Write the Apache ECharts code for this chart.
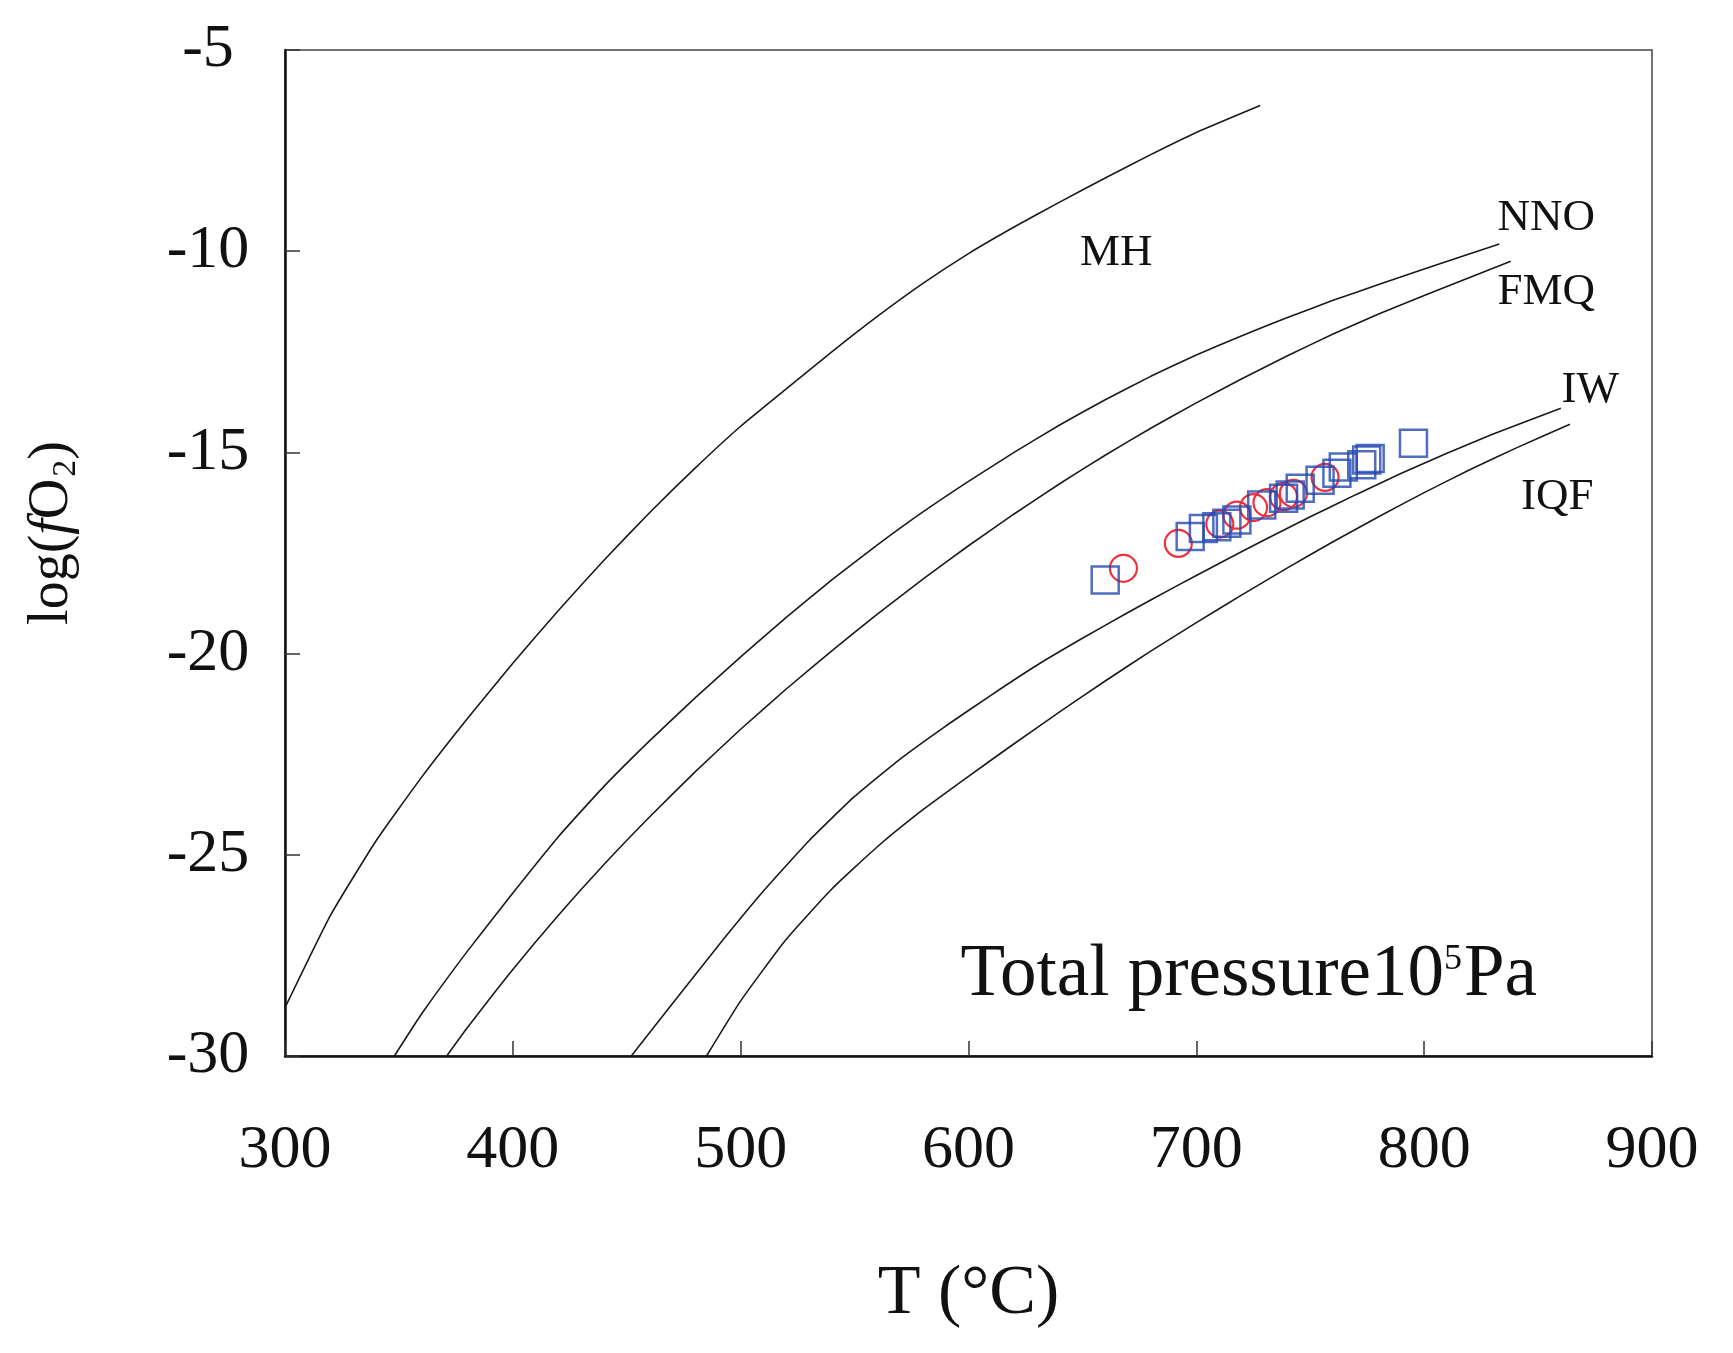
<!DOCTYPE html>
<html>
<head>
<meta charset="utf-8">
<title>log(fO2) vs T</title>
<script src="https://cdn.jsdelivr.net/npm/echarts@6/dist/echarts.min.js"></script>
<style>
  html, body { margin: 0; padding: 0; background: #fff; }
  #main { width: 1733px; height: 1353px; }
</style>
</head>
<body>
<div id="main"></div>
<script>
// buffer curves: [T (°C), log fO2]
const mhCurve = [
  [300, -28.8], [320, -26.5], [340, -24.65], [360, -23.07], [380, -21.62],
  [400, -20.24], [420, -18.93], [440, -17.68], [460, -16.5], [480, -15.39],
  [500, -14.35], [520, -13.42], [540, -12.5], [560, -11.62], [580, -10.8],
  [600, -10.06], [620, -9.4], [640, -8.78], [660, -8.18], [680, -7.6],
  [700, -7.05], [728, -6.38]
];
const nnoCurve = [
  [348, -30], [360, -28.95], [380, -27.4], [400, -25.95], [420, -24.55],
  [440, -23.3], [460, -22.17], [480, -21.1], [500, -20.08], [520, -19.1],
  [540, -18.17], [560, -17.3], [580, -16.48], [600, -15.72], [620, -15.0],
  [640, -14.32], [660, -13.69], [680, -13.11], [700, -12.58], [720, -12.1],
  [740, -11.65], [760, -11.22], [780, -10.83], [800, -10.44], [833, -9.82]
];
const fmqCurve = [
  [371, -30], [380, -29.3], [400, -27.85], [420, -26.5], [440, -25.24],
  [460, -24.06], [480, -22.94], [500, -21.88], [520, -20.88], [540, -19.93],
  [560, -19.02], [580, -18.15], [600, -17.32], [620, -16.53], [640, -15.78],
  [660, -15.07], [680, -14.4], [700, -13.77], [720, -13.17], [740, -12.6],
  [760, -12.06], [780, -11.56], [800, -11.1], [838, -10.25]
];
const iwCurve = [
  [452, -30], [470, -28.7], [490, -27.27], [510, -25.9], [530, -24.65],
  [550, -23.55], [570, -22.62], [590, -21.8], [610, -21.03], [630, -20.29],
  [650, -19.62], [670, -18.98], [690, -18.36], [710, -17.76], [730, -17.17],
  [750, -16.6], [770, -16.05], [790, -15.52], [810, -15.02], [830, -14.55],
  [860, -13.9]
];
const iqfCurve = [
  [485, -30], [500, -28.63], [520, -27.1], [540, -25.85], [560, -24.8],
  [580, -23.88], [600, -23.05], [620, -22.24], [640, -21.45], [660, -20.68],
  [680, -19.94], [700, -19.23], [720, -18.54], [740, -17.87], [760, -17.22],
  [780, -16.6], [800, -16.0], [820, -15.43], [840, -14.9], [864, -14.3]
];

// samples
const squareT = [660, 697.3, 703.1, 709, 713.4, 717.8, 728.7, 738.3, 741.2, 745.6, 754.3, 761.7, 764.5, 772.6, 774.8, 776.3, 795.3];
const squareL = [-18.17, -17.09, -16.89, -16.85, -16.76, -16.68, -16.31, -16.14, -16.06, -15.89, -15.69, -15.52, -15.36, -15.31, -15.19, -15.15, -14.77];
const circleT = [668, 692.1, 710.3, 717.8, 725.1, 731, 738.3, 742.6, 756.5];
const circleL = [-17.88, -17.26, -16.78, -16.56, -16.37, -16.25, -16.1, -16.02, -15.62];

// curve names and their anchor points
const curveNames = ['MH', 'NNO', 'FMQ', 'IW', 'IQF'];
const nameT = [664.8, 853.6, 853.6, 872.9, 858.4];
const nameL = [-10.04, -9.17, -11.01, -13.45, -16.11];

const xTicks = [300, 900, 100];
const yTicks = [-30, -5, 5];

const serif = '"Liberation Serif", "Times New Roman", serif';

const myChart = echarts.init(document.getElementById('main'));

function curveSeries(name, data) {
  return {
    name: name,
    type: 'line',
    data: data,
    symbol: 'none',
    smooth: 0.15,
    silent: true,
    lineStyle: { color: '#1a1a1a', width: 1.6 },
    z: 2
  };
}

const option = {
  backgroundColor: '#fff',
  animation: false,
  grid: {
    left: 285,
    top: 50,
    right: 81,
    bottom: 297,
    show: true,
    borderColor: '#444',
    borderWidth: 1.5
  },
  xAxis: {
    type: 'value',
    min: xTicks[0],
    max: xTicks[1],
    interval: xTicks[2],
    name: 'T (°C)',
    nameLocation: 'middle',
    nameGap: 204,
    nameTextStyle: { fontFamily: serif, fontSize: 70, color: '#111' },
    axisLine: { show: true, lineStyle: { color: '#111', width: 2.5 } },
    axisTick: { show: true, inside: true, length: 15, lineStyle: { color: '#333', width: 1.5 } },
    axisLabel: { fontFamily: serif, fontSize: 62, color: '#111', margin: 64 },
    splitLine: { show: false }
  },
  yAxis: {
    type: 'value',
    min: yTicks[0],
    max: yTicks[1],
    interval: yTicks[2],
    name: '{a|log(}{i|f}{a|O}{s|2}{a|)}',
    nameLocation: 'middle',
    nameGap: 202,
    nameRotate: 90,
    nameTextStyle: {
      fontFamily: serif,
      fontSize: 56,
      color: '#111',
      padding: [0, 0, 0, 40],
      rich: {
        a: { fontFamily: serif, fontSize: 56, color: '#111' },
        i: { fontFamily: serif, fontSize: 56, fontStyle: 'italic', color: '#111' },
        s: { fontFamily: serif, fontSize: 34, color: '#111', padding: [27, 0, 0, 2] }
      }
    },
    axisLine: { show: true, lineStyle: { color: '#111', width: 2.5 } },
    axisTick: { show: true, inside: true, length: 15, lineStyle: { color: '#333', width: 1.5 } },
    axisLabel: { fontFamily: serif, fontSize: 62, color: '#111', margin: 77, align: 'center' },
    splitLine: { show: false }
  },
  series: [
    curveSeries('MH', mhCurve),
    curveSeries('NNO', nnoCurve),
    curveSeries('FMQ', fmqCurve),
    curveSeries('IW', iwCurve),
    curveSeries('IQF', iqfCurve),
    {
      name: 'circles',
      type: 'scatter',
      data: circleT.map((t, i) => [t, circleL[i]]),
      symbol: 'circle',
      symbolSize: 27,
      itemStyle: { color: 'rgba(255,255,255,0)', borderColor: '#f0303a', borderWidth: 2.2, opacity: 1 },
      z: 3
    },
    {
      name: 'squares',
      type: 'scatter',
      data: squareT.map((t, i) => [t, squareL[i]]),
      symbol: 'rect',
      symbolSize: 27,
      itemStyle: { color: 'rgba(255,255,255,0)', borderColor: 'rgba(38,72,178,0.8)', borderWidth: 2.5, opacity: 1 },
      z: 4
    },
    {
      name: 'curve names',
      type: 'scatter',
      silent: true,
      symbolSize: 0,
      itemStyle: { opacity: 1 },
      data: curveNames.map((n, i) => ({ value: [nameT[i], nameL[i]], name: n })),
      label: {
        show: true,
        position: 'inside',
        formatter: p => p.name,
        fontFamily: serif,
        fontSize: 45,
        color: '#111'
      },
      z: 5
    },
    {
      name: 'pressure',
      type: 'scatter',
      silent: true,
      symbolSize: 0,
      itemStyle: { opacity: 1 },
      data: [{ value: [723, -28.0], name: 'pressure' }],
      label: {
        show: true,
        position: 'inside',
        formatter: '{a|Total pressure10}{s|5}{a|Pa}',
        rich: {
          a: { fontFamily: serif, fontSize: 73, color: '#111' },
          s: { fontFamily: serif, fontSize: 36, color: '#111', padding: [0, 2, 32, 0] }
        }
      },
      z: 5
    }
  ]
};

myChart.setOption(option);
</script>
</body>
</html>
